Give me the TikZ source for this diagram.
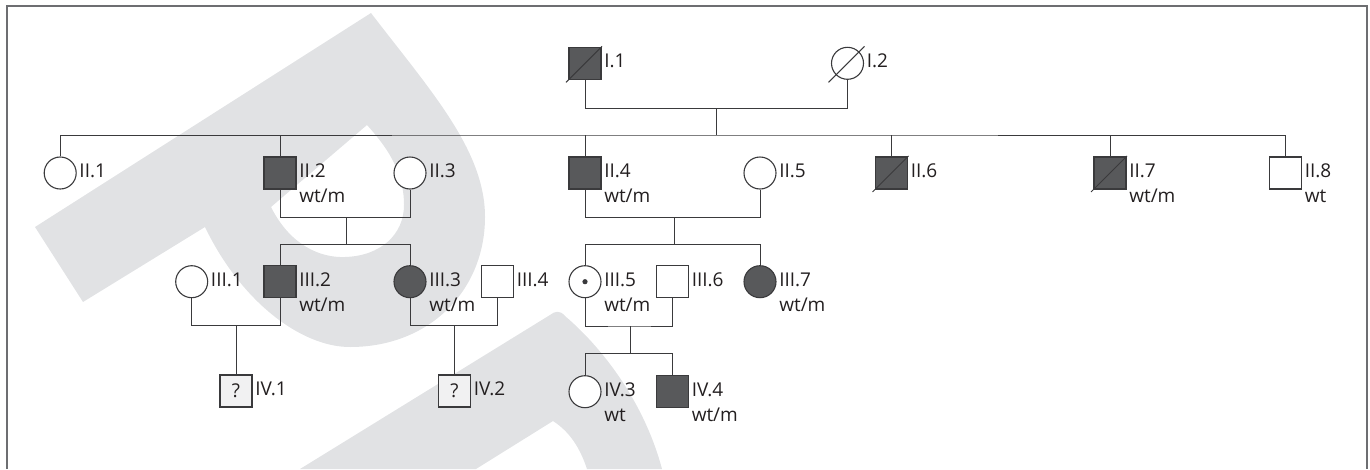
\documentclass[tikz,border=0pt]{standalone}
\usepackage{fontspec}
\setmainfont{Open Sans}
\definecolor{ink}{HTML}{3A3A3C}
\definecolor{affected}{HTML}{58595B}
\definecolor{unknownfill}{HTML}{F1F1F2}
\definecolor{emblemgray}{HTML}{E1E2E4}
\definecolor{framecol}{HTML}{6D6E71}
\definecolor{txt}{HTML}{231F20}
\tikzset{
  indiv/.style={draw=ink, line width=1.1pt, inner sep=0pt, fill=white, text=txt,
    font=\fontsize{19}{22}\selectfont},
  male/.style={indiv, rectangle, minimum size=32pt},
  female/.style={indiv, circle, minimum size=32pt},
  aff/.style={fill=affected},
  unk/.style={fill=unknownfill},
  link/.style={draw=ink, line width=1pt},
  lab/.style={anchor=base west, inner sep=0pt, text=txt, font=\fontsize{19}{22}\selectfont},
  deceased/.style={draw=ink, line width=1pt},
}
% identifier and genotype written to the right of a symbol
\newcommand\idlab[2]{\node[lab] (#1-id) at ([xshift=2.5pt,yshift=-4.6pt]#1.east) {#2};}
\newcommand\genolab[2]{\node[lab] (#1-gt) at ([xshift=2.5pt,yshift=-29.8pt]#1.east) {#2};}
% diagonal stroke for a deceased individual
\newcommand\deadmark[1]{\draw[deceased] ([shift={(-19pt,-19pt)}]#1.center) -- ([shift={(17pt,17pt)}]#1.center);}
\begin{document}
\begin{tikzpicture}[x=1pt, y=-1pt]
\useasboundingbox (0,0) rectangle (1370,469);

% background emblem
\fill[emblemgray, even odd rule]
  (35,227) -- (371,13)
  .. controls (430,90) and (485,150) .. (485,217)
  .. controls (485,290) and (430,347) .. (350,347)
  .. controls (300,347) and (240,300) .. (205,227)
  -- (83,302) -- cycle
  (367,125) -- (271,207)
  .. controls (290,245) and (320,258) .. (345,257)
  .. controls (380,256) and (404,235) .. (404,205)
  .. controls (404,170) and (385,145) .. (367,125) -- cycle;
\fill[emblemgray]
  (300,469) -- (550,315) .. controls (555,311) and (560,310) .. (565,316)
  .. controls (605,350) and (645,405) .. (662,469)
  -- (587,469) .. controls (580,448) and (570,432) .. (553,421)
  -- (476,469) -- cycle;

% frame
\draw[framecol, line width=2pt] (7,469) -- (7,6) -- (1366.5,6) -- (1366.5,469);

% generation I
\node[male, aff] (I1) at (585,63.3) {};
\node[female] (I2) at (847.5,63.3) {};
% generation II
\node[female] (II1) at (60.2,173) {};
\node[male, aff] (II2) at (280,173) {};
\node[female] (II3) at (410,173) {};
\node[male, aff] (II4) at (585,173) {};
\node[female] (II5) at (760,173) {};
\node[male, aff] (II6) at (891.5,173) {};
\node[male, aff] (II7) at (1110,173) {};
\node[male] (II8) at (1285.5,173) {};
% generation III
\node[female] (III1) at (191.7,281.7) {};
\node[male, aff] (III2) at (280,281.7) {};
\node[female, aff] (III3) at (410,281.7) {};
\node[male] (III4) at (497.5,281.7) {};
\node[female] (III5) at (585,281.7) {};
\node[male] (III6) at (672.5,281.7) {};
\node[female, aff] (III7) at (760,281.7) {};
% generation IV
\node[male, unk] (IV1) at (236,391) {?};
\node[male, unk] (IV2) at (454.5,391) {?};
\node[female] (IV3) at (585,391.7) {};
\node[male, aff] (IV4) at (672.5,391.7) {};

% carrier dot
\fill[ink] (III5.center) circle (2.6pt);

% deceased
\deadmark{I1}
\deadmark{I2}
\deadmark{II6}
\deadmark{II7}

% line junctions
\coordinate (m1) at (716.7,108.3);
\coordinate (s2) at (716.7,135);
\coordinate (m23) at (346,217.3);
\coordinate (s3a) at (346,244.3);
\coordinate (m45) at (674,217.3);
\coordinate (s3b) at (674,244.3);
\coordinate (m312) at (236,325.7);
\coordinate (m334) at (454.5,325.7);
\coordinate (m356) at (630,326);
\coordinate (s4) at (630,353.3);

% couples and sibships
\draw[link] (I1.south) |- (m1) -| (I2.south);
\draw[link] (m1) -- (s2);
\draw[link] (II1.north) |- (s2) -| (II8.north);
\foreach \n in {II2,II4,II6,II7} \draw[link] (\n.north) -- (\n.north |- s2);

\draw[link] (II2.south) |- (m23) -| (II3.south);
\draw[link] (m23) -- (s3a);
\draw[link] (III2.north) |- (s3a) -| (III3.north);

\draw[link] (II4.south) |- (m45) -| (II5.south);
\draw[link] (m45) -- (s3b);
\draw[link] (III5.north) |- (s3b) -| (III7.north);

\draw[link] (III1.south) |- (m312) -| (III2.south);
\draw[link] (m312) -- (IV1.north);
\draw[link] (III3.south) |- (m334) -| (III4.south);
\draw[link] (m334) -- (IV2.north);
\draw[link] (III5.south) |- (m356) -| (III6.south);
\draw[link] (m356) -- (s4);
\draw[link] (IV3.north) |- (s4) -| (IV4.north);

% labels
\idlab{I1}{I.1}
\idlab{I2}{I.2}
\idlab{II1}{II.1}
\idlab{II2}{II.2} \genolab{II2}{wt/m}
\idlab{II3}{II.3}
\idlab{II4}{II.4} \genolab{II4}{wt/m}
\idlab{II5}{II.5}
\idlab{II6}{II.6}
\idlab{II7}{II.7} \genolab{II7}{wt/m}
\idlab{II8}{II.8} \genolab{II8}{wt}
\idlab{III1}{III.1}
\idlab{III2}{III.2} \genolab{III2}{wt/m}
\idlab{III3}{III.3} \genolab{III3}{wt/m}
\idlab{III4}{III.4}
\idlab{III5}{III.5} \genolab{III5}{wt/m}
\idlab{III6}{III.6}
\idlab{III7}{III.7} \genolab{III7}{wt/m}
\idlab{IV1}{IV.1}
\idlab{IV2}{IV.2}
\idlab{IV3}{IV.3} \genolab{IV3}{wt}
\idlab{IV4}{IV.4} \genolab{IV4}{wt/m}
\end{tikzpicture}
\end{document}
